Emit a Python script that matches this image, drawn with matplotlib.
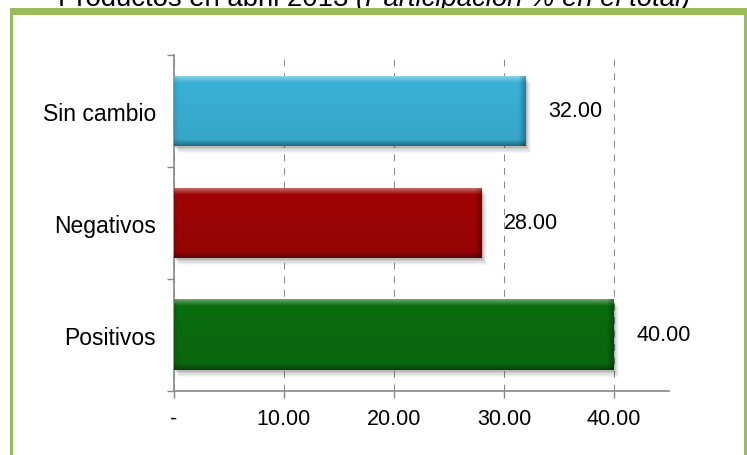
import matplotlib
matplotlib.use('Agg')
import matplotlib.pyplot as plt
import numpy as np
from matplotlib.colors import to_rgb
from matplotlib.patches import Rectangle
import matplotlib.transforms as mtransforms

# ---- data ----
categories = ['Positivos', 'Negativos', 'Sin cambio']
values = [40.00, 28.00, 32.00]
bar_colors = ['#0A6E0E', '#A10505', '#3AB3D7']
xticks = [0, 10, 20, 30, 40]
xticklabels = ['-', '10.00', '20.00', '30.00', '40.00']
title_main = 'Productos en abril 2013 '
title_italic = '(Participación % en el total)'

plt.rcParams['font.family'] = ['Liberation Sans', 'DejaVu Sans']

W, H = 747, 456
fig = plt.figure(figsize=(W / 100, H / 100), dpi=100)
fig.patch.set_facecolor('white')

def fx(px):
    return px / W

def fy(py):
    return 1 - py / H

# green frame
frame_c = '#9BBB59'
for (x0, y0, x1, y1) in [(10, 9, 13, 456), (10, 9, 747, 16), (744, 9, 747, 456)]:
    fig.patches.append(Rectangle((fx(x0), fy(y1)), fx(x1) - fx(x0), fy(y0) - fy(y1),
                                 transform=fig.transFigure, facecolor=frame_c,
                                 edgecolor='none', zorder=5))

ax = fig.add_axes([fx(174), fy(392), fx(669) - fx(174), fy(56) - fy(392)])
ax.set_facecolor('none')

ypos = np.arange(len(categories))
bar_h = 0.625
bars = ax.barh(ypos, values, height=bar_h, color=bar_colors, zorder=3)

# bevel / gradient and soft shadow
for bar, c in zip(bars, bar_colors):
    x0, y0 = bar.get_x(), bar.get_y()
    w, h = bar.get_width(), bar.get_height()
    base = np.array(to_rgb(c))
    nr, nc = 140, 600
    rows = np.linspace(0, 1, nr)[:, None]
    cols = np.linspace(0, 1, nc)[None, :]
    img = np.ones((nr, nc, 3)) * base
    bv = 0.09  # vertical bevel fraction
    bh = 7 / (w * 11.0)  # horizontal bevel fraction (~7 px)
    light = np.clip(1 - rows / bv, 0, 1)
    img = img + (1 - img) * (0.40 * light)[..., None]
    dark = np.clip((rows - (1 - bv)) / bv, 0, 1)
    img = img * (1 - 0.35 * dark)[..., None]
    rdark = np.clip((cols - (1 - bh)) / bh, 0, 1) * np.ones_like(rows)
    img = img * (1 - 0.30 * rdark)[..., None]
    ldark = np.clip(1 - cols / (bh * 0.6), 0, 1) * np.ones_like(rows)
    img = img * (1 - 0.12 * ldark)[..., None]
    img = img * (1 - 0.08 * rows)[..., None]
    img = np.clip(img, 0, 1)
    ax.imshow(img, extent=[x0, x0 + w, y0, y0 + h], aspect='auto',
              origin='upper', zorder=3.5, interpolation='bilinear')
    for k, a in enumerate([0.10, 0.08, 0.06, 0.04, 0.03]):
        off = mtransforms.ScaledTranslation((1 + k * 0.6) / 72, -(1.5 + k * 0.9) / 72,
                                            fig.dpi_scale_trans)
        ax.add_patch(Rectangle((x0, y0), w, h, transform=ax.transData + off,
                               facecolor='black', alpha=a, edgecolor='none', zorder=2))

# value labels
for y, v in zip(ypos, values):
    ax.annotate(f'{v:.2f}', xy=(v, y), xytext=(16, 0), textcoords='offset points',
                ha='left', va='center', fontsize=15.5, color='black', zorder=6)

ax.set_xlim(0, 45)
ax.set_ylim(-0.5, len(categories) - 0.5)

ax.set_xticks(xticks)
ax.set_xticklabels(xticklabels, fontsize=15.5)
ax.set_yticks(ypos)
ax.set_yticklabels(categories, fontsize=16.5)
ax.set_yticks(np.arange(-0.5, len(categories), 1.0), minor=True)

axis_c = '#878787'
ax.tick_params(axis='y', which='major', length=0, pad=13)
ax.tick_params(axis='y', which='minor', length=5, width=1, color=axis_c, direction='out')
ax.tick_params(axis='x', which='major', length=5, width=1, color=axis_c, direction='out', pad=7)

for s in ['top', 'right']:
    ax.spines[s].set_visible(False)
for s in ['left', 'bottom']:
    ax.spines[s].set_color(axis_c)
    ax.spines[s].set_linewidth(1.2)

ax.set_axisbelow(True)
ax.xaxis.grid(True, color='#8a8a8a', linewidth=0.75, linestyle=(0, (6.5, 6.5)), zorder=0)

# title (partially clipped at the top edge, as in the original)
t1 = fig.text(fx(58), fy(6.2), title_main, fontsize=19.8, va='baseline', ha='left')
fig.canvas.draw()
bb = t1.get_window_extent(renderer=fig.canvas.get_renderer())
fig.text(bb.x1 / W, fy(6.2), title_italic, fontsize=19.8, va='baseline', ha='left',
         style='italic')

fig.savefig('out.png', dpi=100)
